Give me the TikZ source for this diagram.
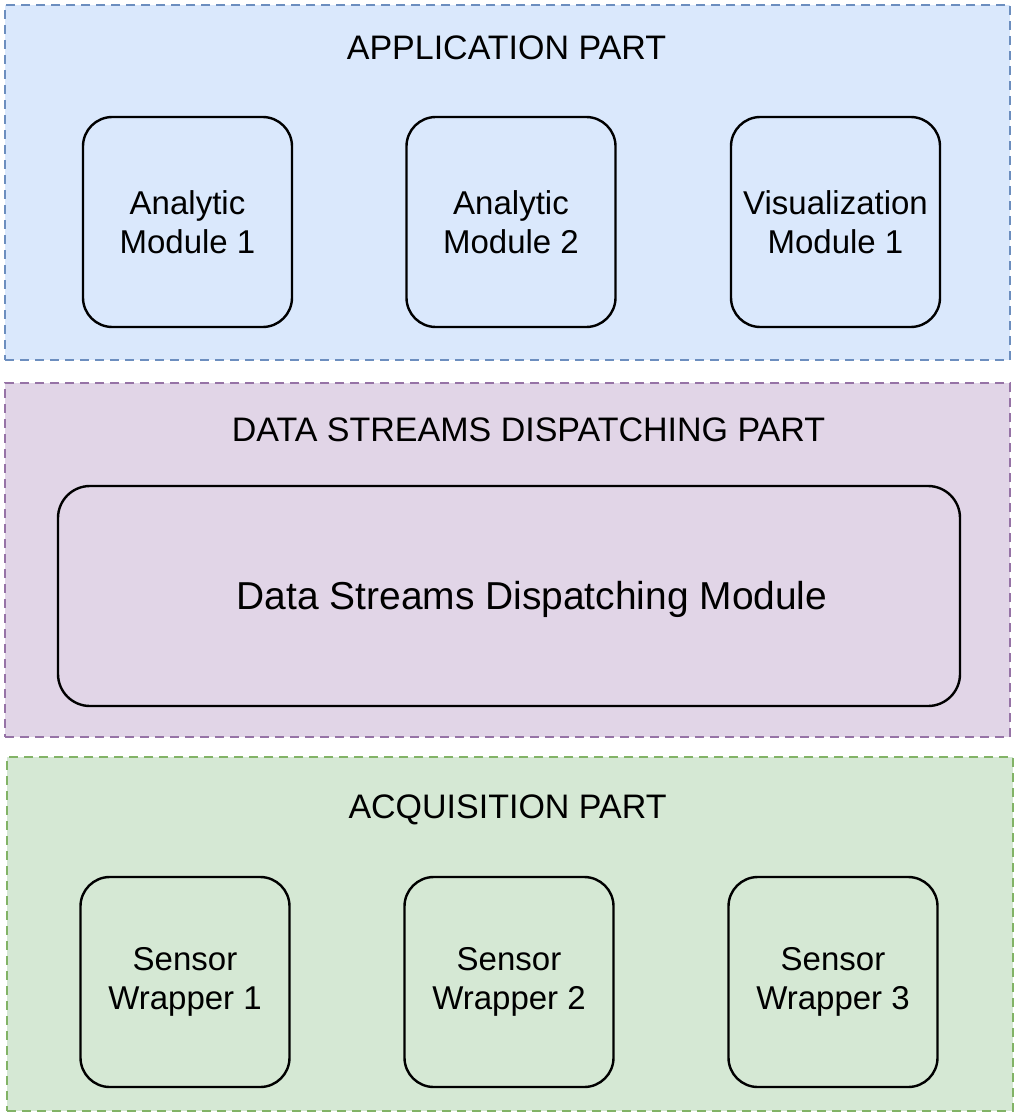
\documentclass[tikz,border=0pt]{standalone}
\usepackage{fontspec}
\setmainfont{Liberation Sans}
\begin{document}
\begin{tikzpicture}[x=0.75pt,y=-0.75pt,
  part/.style={draw, line width=1.6pt, dash pattern=on 6.75pt off 4.5pt, inner sep=0pt},
  apppart/.style={part, draw=appstroke, fill=appfill},
  disppart/.style={part, draw=dispstroke, fill=dispfill},
  acqpart/.style={part, draw=acqstroke, fill=acqfill},
  modbox/.style={draw=black, line width=1.8pt, rounded corners=22pt, minimum width=156.75pt, minimum height=157.5pt, align=center, font=\fontsize{24.75pt}{29.25pt}\selectfont, inner sep=0pt},
  bigbox/.style={draw=black, line width=1.8pt, rounded corners=24pt, minimum width=676.5pt, minimum height=165pt, font=\fontsize{29.2pt}{34pt}\selectfont, inner sep=0pt, text height=19.5pt, text depth=0pt},
  parttitle/.style={anchor=base, font=\fontsize{25.5pt}{30pt}\selectfont, inner sep=0pt}
]
\definecolor{appfill}{HTML}{DAE8FC}
\definecolor{appstroke}{HTML}{6C8EBF}
\definecolor{dispfill}{HTML}{E1D5E7}
\definecolor{dispstroke}{HTML}{9673A6}
\definecolor{acqfill}{HTML}{D5E8D4}
\definecolor{acqstroke}{HTML}{82B366}
\useasboundingbox (0,0) rectangle (1016,1120);
\fill[white] (0,0) rectangle (1016,1120);

\node[apppart, minimum width=753.75pt, minimum height=266.25pt] (app) at (507.5,182.5) {};
\node[disppart, minimum width=753.75pt, minimum height=265.5pt] (disp) at (507.5,560) {};
\node[acqpart, minimum width=754.5pt, minimum height=265.5pt] (acq) at (510,934) {};

\node[parttitle] (apptitle) at (506.5,60) {APPLICATION PART};
\node[parttitle] (disptitle) at (528.5,441) {DATA STREAMS DISPATCHING PART};
\node[parttitle] (acqtitle) at (507.5,818) {ACQUISITION PART};

\node[modbox] (am1) at (187.5,222) {Analytic\\Module 1};
\node[modbox] (am2) at (511,222) {Analytic\\Module 2};
\node[modbox] (vm1) at (835.5,222) {Visualization\\Module 1};

\node[bigbox] (dsm) at (509,596) {\hspace*{34.5pt}Data Streams Dispatching Module};

\node[modbox] (sw1) at (185,982) {Sensor\\Wrapper 1};
\node[modbox] (sw2) at (509,982) {Sensor\\Wrapper 2};
\node[modbox] (sw3) at (833,982) {Sensor\\Wrapper 3};
\end{tikzpicture}
\end{document}
